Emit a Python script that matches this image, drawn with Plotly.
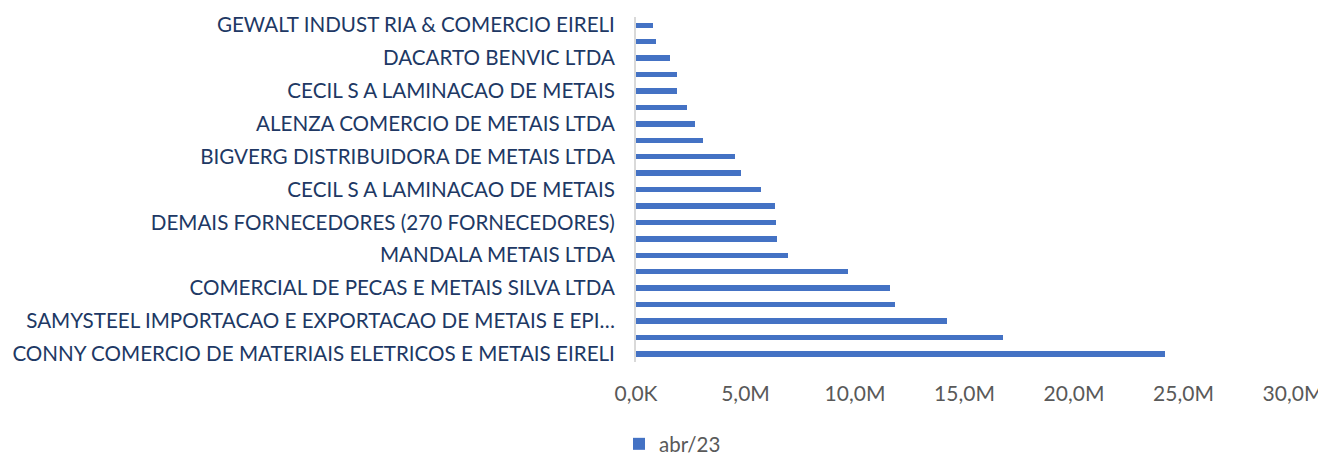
import plotly.graph_objects as go

# Suppliers, top to bottom (only every other one is labelled in the reference)
supplier_labels = [
    "GEWALT INDUST RIA & COMERCIO EIRELI",
    "DACARTO BENVIC LTDA",
    "CECIL S A LAMINACAO DE METAIS",
    "ALENZA COMERCIO DE METAIS LTDA",
    "BIGVERG DISTRIBUIDORA DE METAIS LTDA",
    "CECIL S A LAMINACAO DE METAIS",
    "DEMAIS FORNECEDORES (270 FORNECEDORES)",
    "MANDALA METAIS LTDA",
    "COMERCIAL DE PECAS E METAIS SILVA LTDA",
    "SAMYSTEEL IMPORTACAO E EXPORTACAO DE METAIS E EPI…",
    "CONNY COMERCIO DE MATERIAIS ELETRICOS E METAIS EIRELI",
]
label_positions = [0, 2, 4, 6, 8, 10, 12, 14, 16, 18, 20]
bar_positions = list(range(21))

# abr/23 values in millions, top to bottom
values_abr23 = [0.77, 0.92, 1.54, 1.86, 1.89, 2.34, 2.68, 3.05, 4.51, 4.78, 5.69,
                6.36, 6.40, 6.42, 6.94, 9.66, 11.61, 11.81, 14.21, 16.75, 24.17]

x_tick_vals = [0, 5, 10, 15, 20, 25, 30]
x_tick_text = ["0,0K", "5,0M", "10,0M", "15,0M", "20,0M", "25,0M", "30,0M"]
series_name = "abr/23"

# the page body adds an 8px offset, so the figure is drawn 8px smaller
FIG_W, FIG_H = 1318, 447

fig = go.Figure()
fig.add_trace(go.Bar(
    x=values_abr23,
    y=bar_positions,
    orientation="h",
    name=series_name,
    width=0.33,
    marker=dict(color="#4472C4", line=dict(width=0)),
    showlegend=True,
))

fig.update_layout(
    width=FIG_W,
    height=FIG_H,
    margin=dict(l=627.5, r=33, t=9, b=92.5, autoexpand=False),
    paper_bgcolor="white",
    plot_bgcolor="white",
    bargap=0,
    font=dict(family="Lato", size=20, color="#595959"),
    xaxis=dict(
        range=[0, 30],
        tickvals=x_tick_vals,
        ticktext=x_tick_text,
        showgrid=False,
        zeroline=False,
        showline=False,
        ticks="",
        automargin=False,
        tickfont=dict(family="Lato", size=21, color="#595959"),
        ticklabelstandoff=17,
        fixedrange=True,
    ),
    yaxis=dict(
        range=[20.5, -0.5],
        tickvals=label_positions,
        ticktext=supplier_labels,
        showgrid=False,
        zeroline=False,
        showline=True,
        linecolor="#D9D9D9",
        linewidth=2,
        ticks="",
        automargin=False,
        tickfont=dict(family="Lato", size=20.6, color="#203864"),
        ticklabelstandoff=15,
        fixedrange=True,
    ),
    legend=dict(
        orientation="h",
        xref="container",
        yref="container",
        x=611 / FIG_W,
        xanchor="left",
        y=1 - 436 / FIG_H,
        yanchor="middle",
        font=dict(family="Lato", size=20.5, color="#595959"),
        itemwidth=30,
        bgcolor="rgba(0,0,0,0)",
    ),
)

fig.write_html("out.html")
